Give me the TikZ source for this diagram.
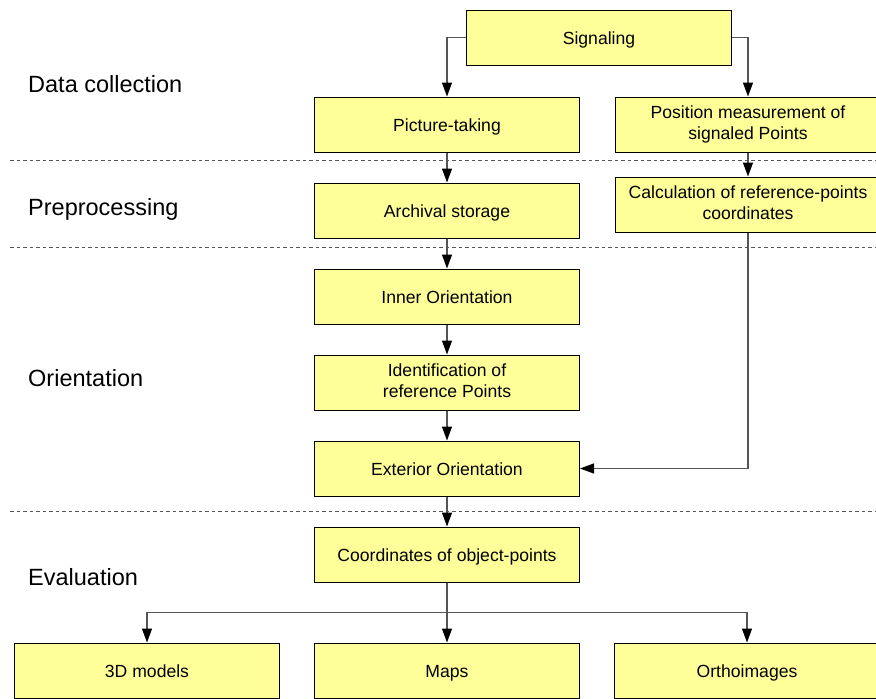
\documentclass[tikz,border=0pt]{standalone}
\usepackage{fontspec}
\setmainfont{Liberation Sans}
\usepackage{tikz}
\usetikzlibrary{arrows.meta,positioning,calc}
\definecolor{boxyellow}{HTML}{FFFF99}
\definecolor{linegray}{HTML}{555555}
\newcommand\boxstrut{\rule[-4pt]{0pt}{22pt}}
\tikzset{
  stepbox/.style={rectangle, draw=black, fill=boxyellow, line width=1pt, minimum width=265pt, minimum height=55pt, inner sep=0pt, align=center, font=\fontsize{17.6}{20.5}\selectfont, execute at begin node=\boxstrut, execute at end node=\boxstrut},
  phase/.style={anchor=base west, inner sep=0pt, font=\fontsize{23.5}{28}\selectfont},
  flow/.style={draw=linegray, line width=1.2pt, -{Triangle[length=14pt, width=10pt, color=black]}},
  sep/.style={draw=linegray, line width=0.9pt, dash pattern=on 3.5pt off 3pt},
}
\begin{document}
\begin{tikzpicture}[x=1pt, y=-1pt, node distance=30pt and 34pt]
  \useasboundingbox (0,0) rectangle (876,699);
  % phases
  \node[phase] (pcollect) at (28,92) {Data collection};
  \node[phase] (pprep) at (28,215) {Preprocessing};
  \node[phase] (porient) at (28,386) {Orientation};
  \node[phase] (peval) at (28,585) {Evaluation};
  \draw[sep] (10,160) -- (876,160);
  \draw[sep] (10,247) -- (876,247);
  \draw[sep] (10,511) -- (876,511);
  % steps
  \node[stepbox] (signal) at (599,37.5) {Signaling};
  \node[stepbox] (picture) at (447,124.5) {Picture-taking};
  \node[stepbox] (position) at (748,124.5) {Position measurement of\\signaled Points};
  \node[stepbox,below=of picture] (archive) {Archival storage};
  \node[stepbox,below=24pt of position] (calcref) {Calculation of reference-points\\coordinates};
  \node[stepbox,below=of archive] (inner) {Inner Orientation};
  \node[stepbox,below=of inner] (ident) {Identification of\\reference Points};
  \node[stepbox,below=of ident] (exterior) {Exterior Orientation};
  \node[stepbox,below=of exterior] (coords) {Coordinates of object-points};
  \node[stepbox,below=60pt of coords] (maps) {Maps};
  \node[stepbox,left=of maps] (models) {3D models};
  \node[stepbox,right=of maps] (ortho) {Orthoimages};
  \coordinate (split) at ($(coords.south)!0.5!(maps.north)$);
  % connections
  \draw[flow] (signal.west) -| (picture.north);
  \draw[flow] (signal.east) -| (position.north);
  \draw[flow] (picture) -- (archive);
  \draw[flow] (position) -- (calcref);
  \draw[flow] (archive) -- (inner);
  \draw[flow] (inner) -- (ident);
  \draw[flow] (ident) -- (exterior);
  \draw[flow] (calcref.south) |- (exterior.east);
  \draw[flow] (exterior) -- (coords);
  \draw[flow] (coords) -- (maps);
  \draw[flow] (split) -| (models.north);
  \draw[flow] (split) -| (ortho.north);
\end{tikzpicture}
\end{document}
